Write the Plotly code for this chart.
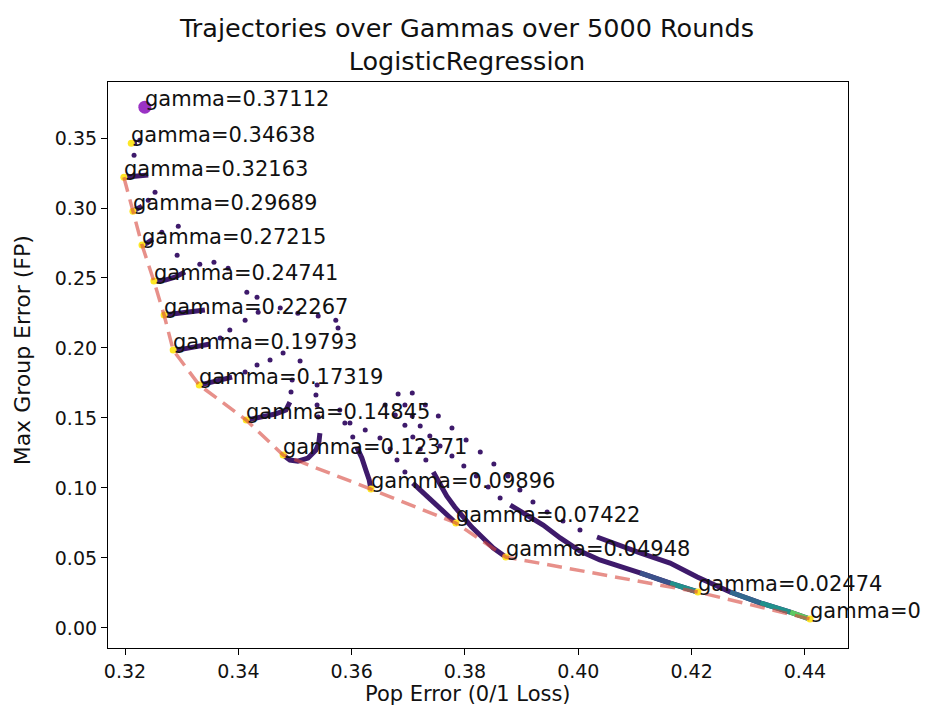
import plotly.graph_objects as go

# ---------------- data ----------------
gamma_labels = ["0.37112", "0.34638", "0.32163", "0.29689", "0.27215", "0.24741",
                "0.22267", "0.19793", "0.17319", "0.14845", "0.12371", "0.09896",
                "0.07422", "0.04948", "0.02474", "0."]

end_x = [0.3235, 0.3211, 0.3198, 0.3214, 0.3230, 0.3251, 0.3269, 0.3285,
         0.3331, 0.3414, 0.3479, 0.3634, 0.3784, 0.3872, 0.4211, 0.4409]
end_y = [0.3720, 0.3463, 0.3220, 0.2977, 0.2735, 0.2478, 0.2235, 0.1985,
         0.1735, 0.1485, 0.1235, 0.0992, 0.0750, 0.0507, 0.0257, 0.0064]

# trajectories (sparse early rounds first, then the dense later rounds, ending at the final point)
tr_34638_x = [0.3226, 0.3221, 0.3211]
tr_34638_y = [0.3484, 0.3470, 0.3463]
tr_32163_x = [0.3216, 0.3241, 0.3226, 0.3216, 0.3208, 0.3198]
tr_32163_y = [0.3377, 0.3235, 0.3227, 0.3224, 0.3221, 0.3220]
tr_29689_x = [0.3253, 0.3241, 0.3230, 0.3221, 0.3214]
tr_29689_y = [0.3113, 0.3056, 0.3013, 0.2990, 0.2977]
tr_27215_x = [0.3294, 0.3265, 0.3249, 0.3239, 0.3230]
tr_27215_y = [0.2870, 0.2827, 0.2777, 0.2749, 0.2735]
tr_24741_x = [0.3292, 0.3332, 0.3357, 0.3382, 0.3306, 0.3288, 0.3271, 0.3251]
tr_24741_y = [0.2663, 0.2599, 0.2613, 0.2570, 0.2542, 0.2506, 0.2485, 0.2478]
tr_22267_x = [0.3576, 0.3572, 0.3541, 0.3505, 0.3474, 0.3433, 0.3415,
              0.3341, 0.3315, 0.3288, 0.3269]
tr_22267_y = [0.2142, 0.2199, 0.2228, 0.2249, 0.2285, 0.2363, 0.2399,
              0.2271, 0.2256, 0.2242, 0.2235]
tr_19793_x = [0.3435, 0.3412, 0.3385, 0.3368, 0.3350, 0.3324, 0.3302, 0.3285]
tr_19793_y = [0.2256, 0.2199, 0.2128, 0.2071, 0.2028, 0.2006, 0.1992, 0.1985]
tr_17319_x = [0.3509, 0.3479, 0.3456, 0.3433, 0.3412, 0.3389, 0.3368, 0.3346, 0.3331]
tr_17319_y = [0.1907, 0.1964, 0.1914, 0.1878, 0.1828, 0.1792, 0.1771, 0.1749, 0.1735]
tr_14845_x = [0.3495, 0.3493, 0.3491, 0.3484, 0.3465, 0.3442, 0.3421, 0.3414]
tr_14845_y = [0.1771, 0.1685, 0.1614, 0.1557, 0.1528, 0.1507, 0.1492, 0.1485]
tr_12371_x = [0.3539, 0.3537, 0.3539, 0.3541, 0.3544, 0.3542, 0.3537, 0.3523,
              0.3505, 0.3491, 0.3479]
tr_12371_y = [0.1735, 0.1664, 0.1592, 0.1507, 0.1392, 0.1320, 0.1271, 0.1214,
              0.1192, 0.1200, 0.1235]
tr_09896_x = [0.3579, 0.3588, 0.3602, 0.3609, 0.3618, 0.3625, 0.3631, 0.3634]
tr_09896_y = [0.1557, 0.1464, 0.1364, 0.1292, 0.1214, 0.1128, 0.1057, 0.0992]
tr_07422_x = [0.3597, 0.3624, 0.3650, 0.3668, 0.3680, 0.3694, 0.3708, 0.3730,
              0.3756, 0.3784]
tr_07422_y = [0.1464, 0.1414, 0.1357, 0.1278, 0.1200, 0.1114, 0.1035, 0.0950,
              0.0857, 0.0750]
tr_04948_x = [0.3659, 0.3677, 0.3694, 0.3708, 0.3721, 0.3731, 0.3744, 0.3756,
              0.3768, 0.3782, 0.3797, 0.3812, 0.3830, 0.3850, 0.3872]
tr_04948_y = [0.1592, 0.1521, 0.1449, 0.1364, 0.1278, 0.1200, 0.1114, 0.1028,
              0.0942, 0.0864, 0.0793, 0.0721, 0.0650, 0.0571, 0.0507]
tr_02474_x = [0.3682, 0.3694, 0.3707, 0.3721, 0.3738, 0.3756, 0.3777, 0.3798,
              0.3820, 0.3841, 0.3862, 0.3880, 0.3910, 0.3938, 0.3968, 0.4003,
              0.4038, 0.4074, 0.4109, 0.4162, 0.4211]
tr_02474_y = [0.1671, 0.1592, 0.1514, 0.1442, 0.1371, 0.1300, 0.1228, 0.1157,
              0.1085, 0.1007, 0.0928, 0.0878, 0.0807, 0.0735, 0.0643, 0.0550,
              0.0486, 0.0443, 0.0393, 0.0321, 0.0257]
tr_00000_x = [0.3707, 0.3730, 0.3753, 0.3777, 0.3802, 0.3827, 0.3851, 0.3876,
              0.3897, 0.3920, 0.3945, 0.3973, 0.4003, 0.4033, 0.4061, 0.4109,
              0.4162, 0.4210, 0.4268, 0.4321, 0.4374, 0.4409]
tr_00000_y = [0.1678, 0.1592, 0.1514, 0.1428, 0.1342, 0.1257, 0.1171, 0.1085,
              0.0985, 0.0900, 0.0828, 0.0764, 0.0700, 0.0650, 0.0607, 0.0536,
              0.0464, 0.0364, 0.0257, 0.0179, 0.0114, 0.0064]

# index (per trajectory) at which the dense, converged part begins
dense_from = [1, 1, 2, 2, 4, 7, 4, 5, 2, 4, 3, 6, 6, 11, 13]

x_ticks = [0.32, 0.34, 0.36, 0.38, 0.40, 0.42, 0.44]
y_ticks = [0.00, 0.05, 0.10, 0.15, 0.20, 0.25, 0.30, 0.35]

title_text = "Trajectories over Gammas over 5000 Rounds<br>LogisticRegression"
x_label = "Pop Error (0/1 Loss)"
y_label = "Max Group Error (FP)"

trajectories = [
    (tr_34638_x, tr_34638_y), (tr_32163_x, tr_32163_y), (tr_29689_x, tr_29689_y),
    (tr_27215_x, tr_27215_y), (tr_24741_x, tr_24741_y), (tr_22267_x, tr_22267_y),
    (tr_19793_x, tr_19793_y), (tr_17319_x, tr_17319_y), (tr_14845_x, tr_14845_y),
    (tr_12371_x, tr_12371_y), (tr_09896_x, tr_09896_y), (tr_07422_x, tr_07422_y),
    (tr_04948_x, tr_04948_y), (tr_02474_x, tr_02474_y), (tr_00000_x, tr_00000_y),
]

# ---------------- styling ----------------
DARK = "#3e1a6b"
FONT = "DejaVu Sans"
TXT = "#111111"
tail_colors = {13: ["#3b528b", "#21918c"],
               14: ["#31688e", "#21918c", "#5ec962"]}

fig = go.Figure()

for i, (tx, ty) in enumerate(trajectories):
    d = dense_from[i]
    fig.add_trace(go.Scatter(x=tx[:d], y=ty[:d], mode="markers",
                             marker=dict(color=DARK, size=5, line=dict(width=0)),
                             hoverinfo="skip", showlegend=False))
    fig.add_trace(go.Scatter(x=tx[d:], y=ty[d:], mode="lines",
                             line=dict(color=DARK, width=5),
                             hoverinfo="skip", showlegend=False))
    if i in tail_colors:
        cols = tail_colors[i]
        n = len(cols)
        for k, c in enumerate(cols):
            j = len(tx) - 1 - n + k
            fig.add_trace(go.Scatter(x=tx[j:j + 2], y=ty[j:j + 2], mode="lines",
                                     line=dict(color=c, width=5),
                                     hoverinfo="skip", showlegend=False))

# final points
fig.add_trace(go.Scatter(x=end_x[1:], y=end_y[1:], mode="markers",
                         marker=dict(color="#fde725", size=7, line=dict(width=0)),
                         hoverinfo="skip", showlegend=False))
fig.add_trace(go.Scatter(x=end_x[:1], y=end_y[:1], mode="markers",
                         marker=dict(color="#9a32c4", size=13, line=dict(width=0)),
                         hoverinfo="skip", showlegend=False))

# pareto frontier (dashed)
fig.add_trace(go.Scatter(x=end_x[2:], y=end_y[2:], mode="lines",
                         line=dict(color="rgba(215,70,60,0.6)", width=3.5, dash="15px,8px"),
                         hoverinfo="skip", showlegend=False))

for lab, x, y in zip(gamma_labels, end_x, end_y):
    fig.add_annotation(x=x, y=y, text="gamma=" + lab, showarrow=False,
                       xanchor="left", yanchor="bottom", xshift=-2, yshift=-6,
                       font=dict(family=FONT, size=21, color=TXT))

# two-line title
fig.add_annotation(x=0.484, y=1, xref="paper", yref="paper", text=title_text,
                   showarrow=False, xanchor="center", yanchor="bottom", yshift=4,
                   font=dict(family=FONT, size=25.5, color=TXT))
# axis labels
fig.add_annotation(x=0.486, y=0, xref="paper", yref="paper", text=x_label,
                   showarrow=False, xanchor="center", yanchor="top", yshift=-32,
                   font=dict(family=FONT, size=21, color=TXT))
fig.add_annotation(x=0, y=0.525, xref="paper", yref="paper", text=y_label,
                   showarrow=False, xanchor="right", yanchor="middle", xshift=-71,
                   textangle=-90, font=dict(family=FONT, size=22, color=TXT))

fig.update_layout(
    width=929, height=716, autosize=False,
    margin=dict(l=100, r=89, t=74, b=76),
    paper_bgcolor="white", plot_bgcolor="white",
    font=dict(family=FONT, color=TXT),
    xaxis=dict(range=[0.317, 0.4476], tickvals=x_ticks, tickformat=".2f",
               showgrid=False, zeroline=False, showline=True, mirror=True,
               linecolor="black", linewidth=1.2, ticks="outside", ticklen=6,
               tickwidth=1.2, tickcolor="black",
               tickfont=dict(family=FONT, size=19, color=TXT)),
    yaxis=dict(range=[-0.0143, 0.39], tickvals=y_ticks, tickformat=".2f",
               showgrid=False, zeroline=False, showline=True, mirror=True,
               linecolor="black", linewidth=1.2, ticks="outside", ticklen=6,
               tickwidth=1.2, tickcolor="black",
               tickfont=dict(family=FONT, size=19, color=TXT)),
)

fig.write_html("out.html")
